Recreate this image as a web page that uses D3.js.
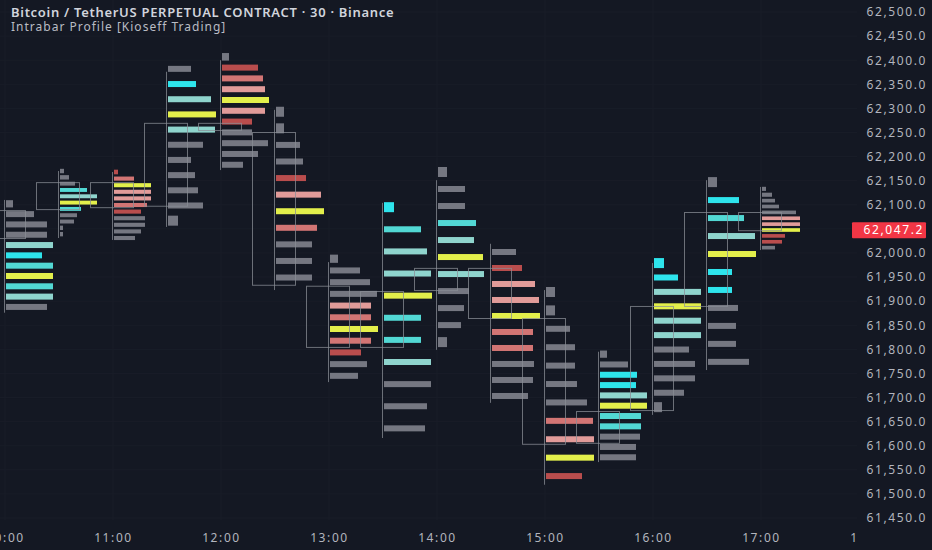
<html lang="en">
<head>
  <title>Intrabar Profile</title>
  <meta charset="utf-8"/>
  <script src="https://d3js.org/d3.v7.min.js"></script>
  <style>
  body { margin: 0; background: #141823; }
  * { font-family: "Noto Sans", sans-serif; }
  .grid { stroke: #191d28; stroke-width: 1px; }
  .wick, .body { stroke: #8a8d96; stroke-width: 1px; fill: none; opacity: 0.75; }
  .axis text { fill: #b2b5be; font-size: 12px; letter-spacing: 1.6px; }
  </style>
</head>
<body>
  <svg id="chart" width="932" height="550"></svg>
  <script>
    // candles, 30 min
    const times = ["10:00","10:30","11:00","11:30","12:00","12:30","13:00","13:30",
                   "14:00","14:30","15:00","15:30","16:00","16:30","17:00"];
    const opens  = [62031,62091,62147,62098,62270,62251,61932,61805,61923,61969,61865,61606,61674,61890,62085];
    const closes = [62089,62147,62095,62270,62255,61934,61805,61921,61969,61865,61604,61672,61890,62085,62047.2];
    const highs  = [62110,62170,62168,62376,62400,62297,61981,62104,62151,62019,61923,61795,61979,62151,62137];
    const lows   = [61876,62031,62027,62054,62172,61923,61732,61616,61799,61689,61519,61566,61664,61757,62006];

    // intrabar profile rows: price of top row, price step, volume per row, tone per row
    const profileTop  = [62102,62170,62168,62382,62407,62293,61988,62095,62168,62002,61919,61790,61979,62147,62133];
    const profileStep = [21.4,13.1,13.7,31.5,22.4,34.4,24.3,45.9,35.3,33.2,38.2,21.4,29.9,37.3,12.2];
    const profileVol = [
      [7,28,41,41,47,36,47,47,47,47,41],
      [4,9,15,27,37,37,21,17,14,3,3],
      [4,20,37,37,37,33,27,31,31,27,21],
      [23,28,43,48,47,35,23,27,30,35,10],
      [7,36,41,43,47,43,30,30,46,36,21],
      [8,8,24,27,30,45,48,41,36,36,36],
      [8,30,40,47,41,41,48,41,31,37,28],
      [10,37,43,47,48,37,37,47,47,43,41],
      [9,27,27,38,36,45,46,31,26,23,9],
      [24,30,43,47,48,41,41,42,41,36],
      [9,9,24,29,29,31,41,47,48,48,36],
      [7,28,37,36,47,47,41,41,40,36,36],
      [10,24,47,47,47,47,35,41,41,30,8],
      [9,31,36,47,48,24,24,30,28,28,41],
      [4,10,13,17,34,38,38,38,23,20,13]
    ];
    const profileTone = [
      ["g","g","g","g","l","c","t","y","t","l","g"],
      ["g","g","g","t","l","y","t","g","g","g","g"],
      ["r","s","y","p","p","s","r","g","g","g","g"],
      ["g","c","l","y","l","g","g","g","g","g","g"],
      ["g","r","s","p","y","p","r","g","g","g","g"],
      ["g","g","g","g","r","p","y","s","g","g","g"],
      ["g","g","g","g","p","s","y","s","r","g","g"],
      ["c","t","l","l","y","t","t","l","g","g","g"],
      ["g","g","g","t","l","y","l","g","g","g","g"],
      ["g","r","p","p","y","s","s","g","g","g"],
      ["g","g","g","g","g","g","g","s","p","y","r"],
      ["g","g","c","c","l","y","t","t","g","g","g"],
      ["c","c","l","y","l","l","g","g","g","g","g"],
      ["g","c","t","l","y","c","c","g","g","g","g"],
      ["g","g","g","g","g","p","p","y","r","r","g"]
    ];

    const priceTicks = [62500,62450,62400,62350,62300,62250,62200,62150,62100,62000,
                        61950,61900,61850,61800,61750,61700,61650,61600,61550,61500,61450];
    const gridTicks = [62500,62450,62400,62350,62300,62250,62200,62150,62100,62050,62000,
                       61950,61900,61850,61800,61750,61700,61650,61600,61550,61500,61450];
    const timeTicks = ["10:00","11:00","12:00","13:00","14:00","15:00","16:00","17:00","18:00"];
    const lastPrice = 62047.2;

    const svg = d3.select("#chart");
    const parse = d3.timeParse("%H:%M");

    const x = d3.scaleTime().domain([parse("10:00"), parse("18:00")]).range([5, 869]);
    const y = d3.scaleLinear().domain([61450, 62500]).range([518, 12]);
    const w = d3.scaleLinear().domain([0, 50]).range([0, 50]);
    const tone = d3.scaleOrdinal()
      .domain(["g","c","t","l","y","r","s","p"])
      .range(["#7f828c","#2ee4ec","#52d8d4","#8fd4cd","#e3ef4b","#b94d4d","#d27574","#e19b99"]);

    svg.append("rect").attr("width", 932).attr("height", 550).attr("fill", "#141823");

    // faint grid
    svg.append("g").selectAll("line").data(timeTicks).join("line")
      .attr("class", "grid")
      .attr("x1", d => x(parse(d))).attr("x2", d => x(parse(d)))
      .attr("y1", 0).attr("y2", 520);
    svg.append("g").selectAll("line").data(gridTicks).join("line")
      .attr("class", "grid")
      .attr("x1", 0).attr("x2", 857)
      .attr("y1", d => y(d)).attr("y2", d => y(d));

    const candles = times.map((t, i) => ({
      t: parse(t), o: opens[i], c: closes[i], h: highs[i], l: lows[i],
      top: profileTop[i], step: profileStep[i], vol: profileVol[i], tone: profileTone[i]
    }));

    // profile bars
    const bars = svg.append("g");
    candles.forEach(d => {
      const cx = x(d.t);
      const stepPx = Math.abs(y(d.top) - y(d.top - d.step));
      const rows = d.vol.map((v, j) => ({ v: v, k: d.tone[j], p: d.top - j * d.step }));
      bars.append("g").selectAll("rect").data(rows).join("rect")
        .attr("x", cx + 1)
        .attr("width", r => w(r.v))
        .attr("height", r => r.v <= 10 ? Math.min(stepPx * 0.7, 10) : Math.min(stepPx * 0.62, 6))
        .attr("y", function(r) { return y(r.p) - (+d3.select(this).attr("height")) / 2; })
        .attr("fill", r => tone(r.k))
        .attr("fill-opacity", r => r.k === "g" ? 0.9 : 1);
    });

    // wicks and bodies
    const lines = svg.append("g");
    lines.selectAll("line.wick").data(candles).join("line")
      .attr("class", "wick")
      .attr("x1", d => x(d.t) - 0.5).attr("x2", d => x(d.t) - 0.5)
      .attr("y1", d => y(d.h)).attr("y2", d => y(d.l));
    lines.selectAll("rect.body").data(candles).join("rect")
      .attr("class", "body")
      .attr("x", d => x(d.t) - 22.5)
      .attr("width", 43)
      .attr("y", d => y(Math.max(d.o, d.c)) + 0.5)
      .attr("height", d => Math.max(1, Math.abs(y(d.o) - y(d.c))));

    // time axis
    const xAxis = svg.append("g").attr("class", "axis")
      .attr("transform", "translate(0,530)")
      .call(d3.axisBottom(x).tickValues(timeTicks.map(parse)).tickFormat(d3.timeFormat("%H:%M")).tickSize(0).tickPadding(3));
    xAxis.select(".domain").remove();

    // price scale panel
    svg.append("rect").attr("x", 857).attr("y", 0).attr("width", 75).attr("height", 550).attr("fill", "#141823");
    const yAxis = svg.append("g").attr("class", "axis")
      .attr("transform", "translate(927,0)")
      .call(d3.axisRight(y).tickValues(priceTicks).tickFormat(d3.format(",.1f")).tickSize(0).tickPadding(0));
    yAxis.select(".domain").remove();
    yAxis.selectAll("text").attr("text-anchor", "end").attr("x", 0);

    // last price label
    svg.append("rect").attr("x", 852).attr("y", y(lastPrice) - 8).attr("width", 74).attr("height", 16)
      .attr("rx", 1).attr("fill", "#f23645");
    svg.append("text").attr("x", 924).attr("y", y(lastPrice)).attr("dy", "0.35em")
      .attr("text-anchor", "end").attr("fill", "#ffffff").attr("font-size", 12)
      .style("letter-spacing", "1.6px")
      .text(d3.format(",.1f")(lastPrice));

    // header
    svg.append("text").attr("x", 11).attr("y", 16.5)
      .attr("fill", "#d1d4dc").attr("font-size", 13).attr("font-weight", 600)
      .style("letter-spacing", "0.7px")
      .text("Bitcoin / TetherUS PERPETUAL CONTRACT · 30 · Binance");
    svg.append("text").attr("x", 11).attr("y", 31)
      .attr("fill", "#b9bcc4").attr("font-size", 12)
      .style("letter-spacing", "1px")
      .text("Intrabar Profile [Kioseff Trading]");
  </script>
</body>
</html>
